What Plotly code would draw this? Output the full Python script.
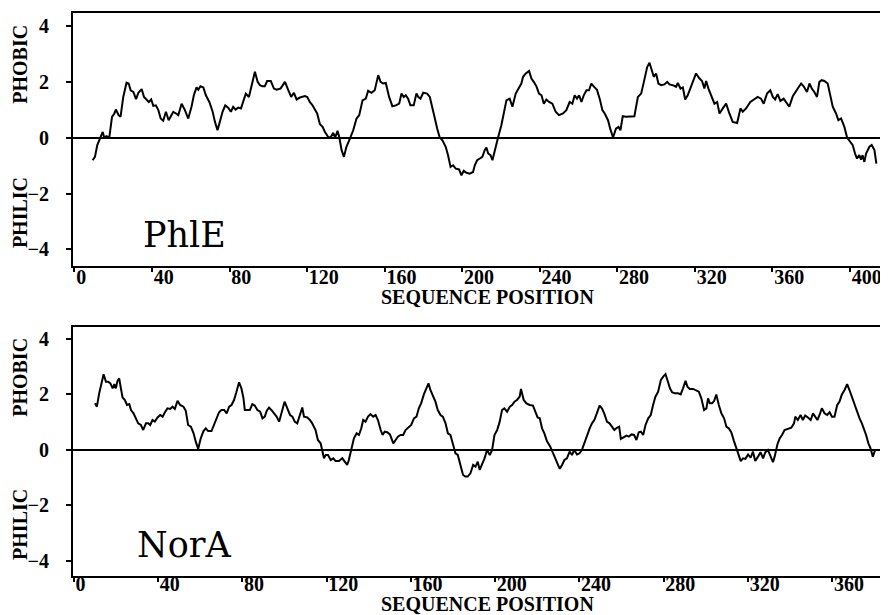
import plotly.graph_objects as go

# ---------------- data ----------------
phle_pos = [9.4, 10.6, 11.8, 13.2, 14.6, 15.4, 16.6, 18.0, 19.4, 20.6, 21.4, 22.8, 23.8, 25.2, 26.9, 28.0, 29.0, 30.4,
            31.8, 33.0, 34.7, 35.9, 37.3, 38.4, 39.6, 40.7, 42.0, 43.3, 44.5, 45.8, 47.2, 48.6, 49.6, 51.0, 52.4, 53.6,
            55.3, 57.0, 58.7, 60.4, 61.6, 63.0, 63.9, 65.0, 66.5, 67.8, 69.6, 71.3, 72.5, 73.8, 75.0, 76.4, 77.8, 79.3,
            80.7, 81.9, 83.1, 84.5, 85.9, 87.1, 88.4, 90.0, 91.4, 93.1, 94.5, 95.7, 97.0, 98.2, 99.4, 101.3, 102.9,
            104.3, 106.3, 108.6, 110.3, 111.8, 113.2, 114.6, 116.3, 118.9, 120.1, 121.4, 122.8, 124.0, 125.2, 126.6,
            128.0, 129.2, 130.9, 132.1, 133.5, 134.5, 135.7, 136.6, 137.8, 139.0, 140.3, 142.1, 143.8, 145.5, 146.9,
            148.6, 150.3, 151.5, 153.2, 154.9, 156.7, 157.9, 159.2, 160.6, 162.3, 164.0, 165.8, 167.5, 168.7, 169.9,
            170.9, 172.1, 173.3, 175.0, 176.4, 177.4, 178.5, 179.9, 181.9, 183.3, 184.7, 185.9, 187.1, 188.4, 189.8,
            191.5, 192.7, 194.0, 195.3, 196.7, 198.4, 199.6, 200.8, 202.2, 203.9, 205.6, 206.5, 207.7, 209.1, 210.4,
            211.6, 212.5, 213.4, 214.6, 215.6, 216.8, 218.5, 220.2, 221.9, 222.8, 224.5, 225.9, 227.6, 229.3, 230.5,
            231.4, 232.8, 234.5, 235.7, 236.9, 238.3, 239.6, 240.9, 242.1, 243.4, 244.8, 246.5, 248.2, 249.9, 252.0,
            253.7, 255.4, 256.8, 258.0, 259.2, 260.3, 261.5, 262.7, 264.1, 265.4, 266.6, 268.3, 269.5, 270.9, 272.3,
            273.5, 275.2, 276.4, 277.8, 279.3, 280.6, 281.6, 282.8, 284.5, 286.3, 288.8, 290.6, 292.3, 293.7, 295.4,
            296.6, 297.8, 298.8, 300.0, 301.2, 302.6, 304.3, 305.7, 306.9, 308.6, 310.3, 311.2, 312.6, 313.8, 315.0,
            316.3, 318.1, 319.4, 320.6, 322.4, 323.7, 324.9, 325.8, 327.0, 328.7, 330.1, 331.5, 332.7, 334.4, 336.1,
            337.8, 339.5, 341.8, 343.5, 344.7, 346.4, 348.6, 350.7, 352.4, 354.1, 355.5, 357.2, 358.9, 360.2, 361.4,
            362.7, 364.1, 365.8, 367.5, 368.7, 370.5, 372.2, 373.4, 374.8, 376.1, 377.8, 379.1, 380.3, 381.6, 383.0,
            384.2, 385.4, 386.8, 388.5, 389.9, 391.1, 392.8, 394.0, 395.4, 397.1, 398.5, 399.7, 401.4, 402.6, 403.6,
            404.8, 405.7, 406.5, 407.4, 408.3, 410.0, 411.2, 412.6, 413.6]
phle_val = [-0.81, -0.69, -0.27, -0.04, 0.20, 0.00, 0.05, 0.00, 0.74, 0.86, 1.00, 0.80, 0.74, 1.45, 1.96, 1.93, 1.69,
            1.63, 1.37, 1.60, 1.73, 1.45, 1.33, 1.27, 1.36, 1.13, 1.15, 0.98, 0.68, 0.60, 0.92, 0.62, 0.74, 0.92, 0.86,
            0.80, 1.21, 0.98, 0.68, 1.10, 1.51, 1.79, 1.71, 1.83, 1.79, 1.51, 1.27, 0.92, 0.56, 0.26, 0.56, 0.92, 1.15,
            1.07, 0.92, 1.10, 1.00, 1.07, 1.04, 1.33, 1.57, 1.45, 1.81, 2.35, 1.99, 1.87, 1.83, 1.83, 2.02, 2.02, 1.75,
            1.71, 1.75, 1.99, 1.69, 1.45, 1.60, 1.36, 1.43, 1.48, 1.45, 1.27, 1.15, 1.00, 0.86, 0.48, 0.38, 0.20, 0.02,
            0.00, 0.17, 0.00, 0.24, 0.02, -0.45, -0.69, -0.33, -0.04, 0.26, 0.68, 0.80, 1.33, 1.39, 1.67, 1.60, 1.69,
            2.23, 1.99, 1.93, 1.95, 1.45, 1.12, 1.15, 1.21, 1.57, 1.45, 1.51, 1.39, 1.15, 1.15, 1.57, 1.45, 1.39, 1.60,
            1.57, 1.45, 0.98, 0.68, 0.32, 0.00, -0.10, -0.33, -0.63, -1.05, -0.99, -1.11, -1.14, -1.35, -1.19, -1.26,
            -1.29, -1.23, -0.99, -0.81, -0.75, -0.69, -0.45, -0.36, -0.57, -0.63, -0.81, -0.45, 0.00, 0.44, 0.98, 1.33,
            1.39, 1.10, 1.57, 1.81, 1.93, 2.17, 2.29, 2.38, 2.11, 1.99, 1.83, 1.57, 1.51, 1.21, 1.36, 1.27, 1.21, 0.92,
            0.80, 0.86, 0.98, 1.27, 1.21, 1.51, 1.39, 1.51, 1.27, 1.51, 1.69, 1.69, 1.93, 1.79, 1.71, 1.39, 0.98, 0.86,
            0.62, 0.30, 0.00, 0.32, 0.38, 0.26, 0.76, 0.74, 0.74, 0.76, 1.45, 1.57, 1.99, 2.52, 2.67, 2.38, 2.17, 2.29,
            1.93, 1.87, 1.90, 1.99, 1.90, 1.87, 1.81, 1.95, 1.75, 1.79, 1.36, 1.51, 1.81, 2.05, 2.29, 2.11, 2.02, 1.75,
            2.02, 1.75, 1.45, 1.21, 1.27, 0.86, 1.04, 1.21, 0.86, 0.56, 0.52, 1.04, 0.92, 1.04, 1.27, 1.36, 1.45, 1.39,
            1.21, 1.57, 1.69, 1.45, 1.36, 1.55, 1.31, 1.39, 1.21, 1.10, 1.48, 1.69, 1.79, 1.93, 1.83, 1.63, 1.93, 1.75,
            1.63, 1.45, 1.99, 2.05, 2.02, 1.93, 1.51, 1.10, 0.86, 0.62, 0.68, 0.38, 0.00, -0.10, -0.27, -0.57, -0.75,
            -0.63, -0.79, -0.63, -0.87, -0.57, -0.33, -0.27, -0.45, -0.93]

nora_pos = [10.1, 11.0, 12.1, 13.2, 14.2, 15.3, 16.4, 17.4, 18.5, 19.3, 20.0, 20.8, 21.6, 22.4, 23.2, 24.3, 25.3, 26.4,
            27.2, 28.4, 29.5, 30.6, 31.9, 33.0, 34.3, 35.4, 36.3, 37.4, 38.5, 39.8, 41.1, 42.2, 43.3, 44.5, 45.8, 46.9,
            48.0, 49.3, 50.5, 52.1, 53.2, 54.3, 55.6, 56.9, 58.0, 59.1, 60.3, 61.6, 62.7, 63.8, 65.4, 66.6, 67.9, 69.0,
            70.1, 71.4, 72.6, 73.8, 74.9, 76.1, 77.2, 78.5, 79.6, 80.6, 81.2, 82.4, 83.6, 84.8, 85.9, 87.2, 88.5, 89.6,
            90.7, 91.6, 92.7, 93.8, 95.1, 96.3, 97.5, 98.6, 100.1, 101.4, 102.7, 103.8, 104.9, 106.1, 107.4, 108.5,
            109.3, 110.9, 112.1, 113.2, 114.8, 115.9, 117.2, 118.0, 118.8, 119.6, 120.7, 122.0, 123.2, 124.3, 125.9,
            127.5, 128.6, 129.8, 130.6, 131.8, 133.0, 134.3, 135.4, 136.5, 137.4, 138.5, 139.7, 140.9, 142.2, 143.3,
            144.4, 145.7, 146.6, 147.6, 148.8, 150.1, 151.7, 152.8, 153.9, 155.1, 156.4, 157.5, 159.1, 160.2, 161.5,
            162.7, 163.8, 164.9, 166.2, 167.5, 168.4, 169.3, 170.6, 171.7, 172.8, 174.1, 175.2, 176.5, 177.6, 178.8,
            179.9, 181.2, 182.3, 183.6, 184.8, 185.9, 187.0, 188.3, 189.6, 190.7, 191.8, 192.7, 193.8, 195.0, 196.2,
            197.5, 198.6, 199.7, 201.0, 202.2, 203.3, 204.4, 205.7, 207.0, 208.1, 209.2, 210.4, 211.7, 212.3, 213.6,
            214.9, 216.4, 218.0, 219.1, 220.2, 221.2, 222.3, 223.4, 224.6, 226.2, 227.8, 229.4, 230.7, 231.8, 232.9,
            234.1, 235.4, 236.5, 237.6, 238.9, 240.1, 241.2, 242.3, 243.6, 244.9, 246.0, 247.1, 248.3, 249.6, 250.7,
            251.8, 253.1, 254.3, 255.5, 256.6, 257.8, 258.9, 259.7, 260.8, 262.4, 263.5, 264.8, 266.0, 267.1, 268.2,
            269.2, 270.3, 271.4, 272.7, 273.9, 275.0, 276.1, 277.4, 278.7, 279.8, 280.9, 281.8, 283.0, 284.0, 285.3,
            286.9, 288.1, 289.2, 290.4, 291.3, 292.4, 294.0, 295.6, 296.7, 297.9, 299.2, 300.3, 301.1, 301.9, 303.0,
            304.0, 305.0, 306.2, 307.4, 308.7, 309.8, 310.9, 312.1, 313.4, 314.5, 315.6, 316.6, 317.7, 318.8, 320.1,
            321.3, 322.4, 323.5, 324.8, 326.0, 327.2, 328.3, 329.5, 330.8, 331.9, 332.7, 334.0, 335.1, 336.2, 337.4,
            339.0, 340.6, 341.9, 342.5, 343.7, 345.0, 346.1, 347.2, 348.5, 349.8, 350.9, 352.0, 353.0, 354.0, 355.1,
            356.4, 357.6, 358.8, 359.9, 361.1, 362.4, 363.5, 364.6, 365.9, 367.1, 368.2, 369.3, 370.6, 371.9, 373.0,
            374.1, 375.0, 376.1, 377.2, 378.2, 379.3, 380.4]
nora_val = [1.68, 1.56, 2.04, 2.46, 2.73, 2.46, 2.46, 2.40, 2.22, 2.37, 2.22, 2.49, 2.58, 2.22, 1.89, 1.80, 1.62, 1.65,
            1.44, 1.32, 1.14, 0.96, 0.90, 0.72, 0.96, 0.96, 0.90, 1.08, 1.02, 1.17, 1.26, 1.20, 1.36, 1.50, 1.48, 1.56,
            1.48, 1.77, 1.62, 1.56, 1.41, 0.90, 0.84, 0.60, 0.28, 0.04, 0.42, 0.68, 0.78, 0.68, 0.68, 0.90, 1.14, 1.36,
            1.44, 1.44, 1.32, 1.56, 1.62, 1.80, 2.08, 2.44, 2.22, 1.86, 1.44, 1.44, 1.44, 1.65, 1.60, 1.44, 1.38, 1.14,
            1.20, 1.41, 1.53, 1.44, 1.32, 1.20, 1.02, 1.32, 1.74, 1.50, 1.26, 1.20, 1.02, 0.96, 1.32, 1.53, 1.20, 1.17,
            1.08, 0.96, 0.72, 0.36, 0.24, 0.00, -0.30, -0.18, -0.18, -0.36, -0.30, -0.40, -0.40, -0.30, -0.40, -0.54,
            -0.36, 0.00, 0.42, 0.60, 0.54, 0.78, 1.08, 1.02, 1.20, 1.29, 1.20, 1.26, 1.08, 0.72, 0.54, 0.66, 0.64, 0.56,
            0.24, 0.36, 0.48, 0.54, 0.54, 0.72, 0.84, 0.90, 1.14, 1.20, 1.50, 1.68, 2.00, 2.22, 2.40, 2.16, 1.92, 1.74,
            1.44, 1.26, 1.20, 0.96, 0.60, 0.54, 0.24, -0.12, -0.18, -0.54, -0.90, -0.96, -0.96, -0.84, -0.54, -0.60,
            -0.42, -0.72, -0.54, -0.30, 0.00, -0.18, 0.00, 0.54, 0.72, 1.02, 1.44, 1.50, 1.38, 1.56, 1.62, 1.74, 1.80,
            1.92, 2.20, 1.80, 1.68, 1.62, 1.60, 1.38, 1.17, 1.14, 0.78, 0.60, 0.32, 0.12, -0.18, -0.48, -0.68, -0.54,
            -0.36, -0.30, -0.06, -0.18, 0.00, -0.16, -0.12, 0.00, 0.24, 0.48, 0.78, 0.96, 1.08, 1.32, 1.60, 1.50, 1.32,
            1.02, 0.96, 0.84, 0.72, 0.80, 0.84, 0.40, 0.44, 0.52, 0.48, 0.56, 0.54, 0.36, 0.64, 0.66, 0.54, 0.90, 1.14,
            1.26, 1.62, 1.92, 2.10, 2.52, 2.64, 2.73, 2.52, 2.22, 2.08, 2.04, 2.04, 2.00, 2.22, 2.49, 2.28, 2.20, 2.20,
            2.13, 2.10, 1.86, 1.44, 1.50, 1.86, 1.68, 1.68, 1.77, 2.00, 1.62, 1.32, 1.14, 0.84, 0.78, 0.64, 0.32, 0.06,
            -0.24, -0.40, -0.30, -0.32, -0.16, -0.28, -0.06, -0.40, -0.24, -0.08, -0.30, -0.08, 0.00, -0.24, -0.44,
            -0.24, 0.20, 0.42, 0.54, 0.72, 0.76, 0.80, 0.96, 1.20, 1.08, 1.26, 1.08, 1.24, 1.17, 1.08, 1.32, 1.17, 1.08,
            1.26, 1.50, 1.32, 1.26, 1.36, 1.20, 1.20, 1.62, 1.74, 2.00, 2.16, 2.37, 2.16, 1.92, 1.62, 1.38, 1.14, 0.96,
            0.78, 0.54, 0.24, 0.06, -0.24, 0.00]

x_ticks = [0, 40, 80, 120, 160, 200, 240, 280, 320, 360, 400]
y_ticks = [-4, -2, 0, 2, 4]
panel_names = ["PhlE", "NorA"]
x_title = "SEQUENCE POSITION"
y_top_label = "PHOBIC"
y_bottom_label = "PHILIC"

# ---------------- figure ----------------
# the page body has an 8px margin, so the figure is drawn 8px smaller and every
# target pixel position below is given in page pixels and shifted by OFF.
OFF = 8
W, H = 888 - OFF, 615 - OFF


def px(x):
    return (x - OFF) / W


def py(y):
    return 1 - (y - OFF) / H


fig = go.Figure()
fig.add_trace(go.Scatter(x=phle_pos, y=phle_val, mode="lines", line=dict(color="black", width=2),
                         xaxis="x", yaxis="y", showlegend=False, hoverinfo="skip"))
fig.add_trace(go.Scatter(x=nora_pos, y=nora_val, mode="lines", line=dict(color="black", width=2),
                         xaxis="x2", yaxis="y2", showlegend=False, hoverinfo="skip"))

tickfont = dict(family="Liberation Serif", size=20, color="black", weight="bold")


def xax(anchor, rng, standoff):
    return dict(domain=[px(73), 1], range=rng, anchor=anchor, tickvals=x_ticks,
                ticks="outside", ticklen=4, tickwidth=1.5, tickcolor="black",
                ticklabelposition="outside right", ticklabelstandoff=standoff,
                showline=True, linecolor="black", linewidth=2, mirror=True,
                showgrid=False, zeroline=False, tickfont=tickfont, fixedrange=True)


def yax(domain, anchor, rng):
    return dict(domain=domain, range=rng, anchor=anchor, tickvals=y_ticks,
                ticks="outside", ticklen=5, tickwidth=1.5, tickcolor="black",
                showline=True, linecolor="black", linewidth=2, mirror=False,
                showgrid=False, zeroline=True, zerolinecolor="black", zerolinewidth=1.5,
                tickfont=tickfont, ticklabelstandoff=13, fixedrange=True)


top_dom = [py(266), py(13)]
bot_dom = [py(576), py(327)]

fig.update_layout(
    width=W, height=H,
    margin=dict(l=0, r=0, t=0, b=0),
    paper_bgcolor="white", plot_bgcolor="white",
    xaxis=xax("y", [-0.72, 419.6], -8),
    yaxis=yax(top_dom, "x", [-4.59, 4.45]),
    xaxis2=xax("y2", [-0.33, 386.5], -11),
    yaxis2=yax(bot_dom, "x2", [-4.54, 4.43]),
)

ann = []
lab_font = dict(family="Liberation Serif", size=20, color="black", weight="bold")
name_font = dict(family="DejaVu Serif", size=35, color="black")
for (yref, ypix_title) in [("y", 297), ("y2", 604)]:
    ann.append(dict(text=x_title, xref="paper", yref="paper", x=px(487), y=py(ypix_title),
                    showarrow=False, font=lab_font, xanchor="center", yanchor="middle"))
    ann.append(dict(text=y_top_label, xref="paper", yref=yref, x=px(20), y=2.6, textangle=-90,
                    showarrow=False, font=lab_font, xanchor="center", yanchor="middle"))
    ann.append(dict(text=y_bottom_label, xref="paper", yref=yref, x=px(20), y=-2.7, textangle=-90,
                    showarrow=False, font=lab_font, xanchor="center", yanchor="middle"))
ann.append(dict(text=panel_names[0], xref="paper", yref="paper", x=px(184), y=py(235),
                showarrow=False, font=name_font, xanchor="center", yanchor="middle"))
ann.append(dict(text=panel_names[1], xref="paper", yref="paper", x=px(184), y=py(545),
                showarrow=False, font=name_font, xanchor="center", yanchor="middle"))
fig.update_layout(annotations=ann)

fig.write_html("out.html")
